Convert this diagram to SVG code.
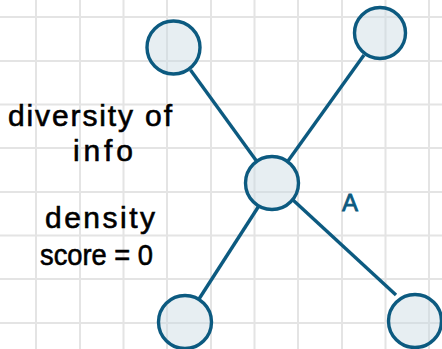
<svg xmlns="http://www.w3.org/2000/svg" width="442" height="349" viewBox="0 0 442 349">
<style>
.grid line{stroke:#e4e4e4;stroke-width:2}
.node circle{fill:#c9dae3;fill-opacity:0.45;stroke:#0c5a80;stroke-width:3.4}
.edges line{stroke:#0c5a80;stroke-width:3.4}
.lbl{font-family:"Liberation Sans","Noto Sans",sans-serif;fill:#000;font-size:30px;stroke:#000;stroke-width:0.6}
</style>
<rect width="442" height="349" fill="#ffffff"/>
<g class="grid">
<line x1="36" y1="0" x2="36" y2="349"/>
<line x1="80" y1="0" x2="80" y2="349"/>
<line x1="123.5" y1="0" x2="123.5" y2="349"/>
<line x1="167" y1="0" x2="167" y2="349"/>
<line x1="211" y1="0" x2="211" y2="349"/>
<line x1="254.5" y1="0" x2="254.5" y2="349"/>
<line x1="298" y1="0" x2="298" y2="349"/>
<line x1="342" y1="0" x2="342" y2="349"/>
<line x1="385.5" y1="0" x2="385.5" y2="349"/>
<line x1="429" y1="0" x2="429" y2="349"/>
<line x1="0" y1="17" x2="442" y2="17"/>
<line x1="0" y1="61" x2="442" y2="61"/>
<line x1="0" y1="104.5" x2="442" y2="104.5"/>
<line x1="0" y1="148" x2="442" y2="148"/>
<line x1="0" y1="192" x2="442" y2="192"/>
<line x1="0" y1="235.5" x2="442" y2="235.5"/>
<line x1="0" y1="279" x2="442" y2="279"/>
<line x1="0" y1="323" x2="442" y2="323"/>
</g>
<g class="edges">
<line x1="190.5" y1="70" x2="256.5" y2="161"/>
<line x1="364" y1="55" x2="288" y2="161"/>
<line x1="258.5" y1="206.5" x2="199" y2="299"/>
<line x1="293" y1="200" x2="396" y2="295"/>
</g>
<g id="n1" class="node"><circle cx="173.5" cy="47.5" r="26.5"/></g>
<g id="n2" class="node"><circle cx="380" cy="33" r="25.5"/></g>
<g id="center" class="node"><circle cx="272" cy="183" r="26.5"/></g>
<g id="n3" class="node"><circle cx="185" cy="322" r="26.5"/></g>
<g id="n4" class="node"><circle cx="415" cy="321" r="26.5"/></g>
<g id="labels">
<text class="lbl" x="8" y="126" textLength="164" lengthAdjust="spacing">diversity of</text>
<text class="lbl" x="73" y="161" textLength="60" lengthAdjust="spacing">info</text>
<text class="lbl" x="45" y="228" textLength="110" lengthAdjust="spacing">density</text>
<text class="lbl" x="40" y="265" textLength="113" lengthAdjust="spacingAndGlyphs">score = 0</text>
<text class="lbl" x="342" y="211" style="font-size:24px;fill:#0c5a80;stroke:#0c5a80;stroke-width:0.8">A</text>
</g>
</svg>
